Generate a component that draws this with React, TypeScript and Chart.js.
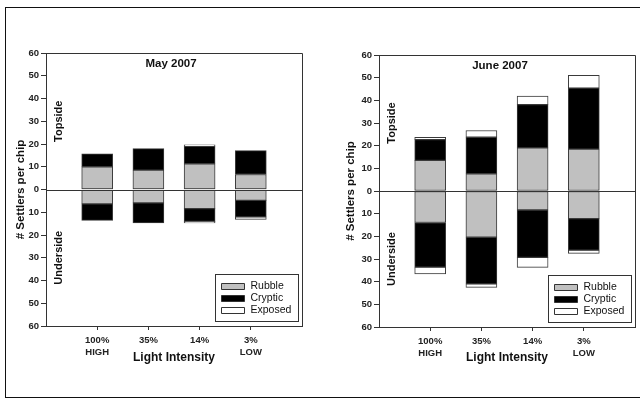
import React, { useEffect, useRef } from "react";
import { Chart, registerables } from "chart.js";

Chart.register(...registerables);

const FONT = "'Liberation Sans', Arial, Helvetica, sans-serif";

const categories: string[][] = [["100%", "HIGH"], ["35%"], ["14%"], ["3%", "LOW"]];
const yTickMin = -60;
const yTickMax = 60;

// May 2007
const mayRubbleTop = [10.0, 8.5, 11.3, 6.6];
const mayCrypticTop = [5.7, 9.5, 7.7, 10.5];
const mayExposedTop = [0, 0, 0.6, 0];
const mayRubbleUnder = [-6.3, -5.9, -8.4, -4.8];
const mayCrypticUnder = [-7.3, -8.8, -5.6, -7.2];
const mayExposedUnder = [0, 0, -0.7, -1.2];

// June 2007
const junRubbleTop = [13.5, 7.6, 19.0, 18.5];
const junCrypticTop = [9.2, 16.1, 19.1, 26.9];
const junExposedTop = [1.0, 3.0, 3.8, 5.6];
const junRubbleUnder = [-13.9, -20.4, -8.4, -12.2];
const junCrypticUnder = [-19.7, -20.6, -20.9, -13.9];
const junExposedUnder = [-3.0, -1.5, -4.4, -1.4];

const seriesNames = ["Rubble", "Cryptic", "Exposed"];
const seriesColors = ["#c0c0c0", "#000000", "#ffffff"];

type Layout = {
  padTop: number;
  padRight: number;
  yWidth: number;
  xHeight: number;
  yTitlePad: number;
  titleShift: number;
};

function makeDatasets(top: number[][], under: number[][]) {
  const ds: any[] = [];
  for (let s = 0; s < 3; s++) {
    for (const arr of [top[s], under[s]]) {
      ds.push({
        label: seriesNames[s],
        data: arr.map((v, i) => ({ x: i + 1, y: v })),
        backgroundColor: seriesColors[s],
        borderColor: "#3a3a3a",
        borderWidth: 1,
        borderSkipped: false,
        barThickness: 31,
        stack: "s",
      });
    }
  }
  return ds;
}

function decorPlugin(title: string, titleShift: number) {
  return {
    id: "decor",
    afterDatasetsDraw(chart: any) {
      const { ctx, chartArea: a, scales } = chart;
      const ys = scales.y;
      ctx.save();
      // zero line
      ctx.strokeStyle = "#333";
      ctx.lineWidth = 1;
      const zy = Math.round(ys.getPixelForValue(0)) + 0.5;
      ctx.beginPath();
      ctx.moveTo(a.left, zy);
      ctx.lineTo(a.right, zy);
      ctx.stroke();
      // top & right border
      ctx.beginPath();
      ctx.moveTo(a.left, Math.round(a.top) + 0.5);
      ctx.lineTo(Math.round(a.right) + 0.5, Math.round(a.top) + 0.5);
      ctx.lineTo(Math.round(a.right) + 0.5, a.bottom);
      ctx.stroke();
      // title
      ctx.fillStyle = "#111";
      ctx.font = `bold 11.5px ${FONT}`;
      ctx.textAlign = "center";
      ctx.textBaseline = "middle";
      ctx.fillText(title, (a.left + a.right) / 2 + titleShift, a.top + 10.5);
      // Topside / Underside
      ctx.font = `bold 11px ${FONT}`;
      for (const [txt, val] of [["Topside", 30], ["Underside", -30]] as [string, number][]) {
        ctx.save();
        ctx.translate(a.left + 12.5, ys.getPixelForValue(val));
        ctx.rotate(-Math.PI / 2);
        ctx.fillText(txt, 0, 0);
        ctx.restore();
      }
      // legend box
      const bw = 83;
      const bh = 47;
      const bx = Math.round(a.right - 4 - bw) + 0.5;
      const by = Math.round(a.bottom - 5 - bh) + 0.5;
      ctx.fillStyle = "#fff";
      ctx.fillRect(bx, by, bw, bh);
      ctx.strokeStyle = "#333";
      ctx.strokeRect(bx, by, bw, bh);
      const seen: string[] = [];
      const items: { label: string; color: string }[] = [];
      for (const d of chart.data.datasets) {
        if (!seen.includes(d.label)) {
          seen.push(d.label);
          items.push({ label: d.label, color: d.backgroundColor });
        }
      }
      ctx.font = `10.5px ${FONT}`;
      ctx.textAlign = "left";
      items.forEach((it, i) => {
        const cy = by + 11 + 12 * i;
        ctx.fillStyle = it.color;
        ctx.strokeStyle = "#333";
        ctx.beginPath();
        ctx.rect(bx + 6, Math.round(cy - 3) + 0.5, 23, 6);
        ctx.fill();
        ctx.stroke();
        ctx.fillStyle = "#111";
        ctx.fillText(it.label, bx + 35, cy + 0.5);
      });
      ctx.restore();
    },
  };
}

function BarPanel(props: {
  title: string;
  top: number[][];
  under: number[][];
  layout: Layout;
  left: number;
}) {
  const ref = useRef<HTMLCanvasElement>(null);
  useEffect(() => {
    const L = props.layout;
    const chart = new Chart(ref.current as HTMLCanvasElement, {
      type: "bar",
      data: { datasets: makeDatasets(props.top, props.under) },
      options: {
        responsive: false,
        animation: false,
        maintainAspectRatio: false,
        layout: { padding: { top: L.padTop, right: L.padRight, left: 0, bottom: 0 } },
        plugins: { legend: { display: false }, tooltip: { enabled: false }, title: { display: false } },
        scales: {
          x: {
            type: "linear",
            min: 0,
            max: 5,
            offset: false,
            stacked: true,
            afterBuildTicks: (scale: any) => {
              scale.ticks = categories.map((_, i) => ({ value: i + 1 }));
            },
            afterFit: (scale: any) => {
              scale.height = L.xHeight;
            },
            ticks: {
              stepSize: 1,
              autoSkip: false,
              maxRotation: 0,
              padding: 5,
              color: "#222",
              font: { family: FONT, size: 9.5, weight: "bold" },
              callback: (v: any) => categories[Math.round(v) - 1] ?? "",
            },
            grid: { drawOnChartArea: false, tickLength: 4, tickColor: "#333", offset: false },
            border: { display: true, color: "#333", width: 1 },
            title: {
              display: true,
              text: "Light Intensity",
              color: "#111",
              font: { family: FONT, size: 12, weight: "bold" },
              padding: { top: 0, bottom: 34 },
            },
          },
          y: {
            type: "linear",
            min: yTickMin,
            max: yTickMax,
            stacked: true,
            afterFit: (scale: any) => {
              scale.width = L.yWidth;
            },
            ticks: {
              stepSize: 10,
              padding: 2,
              color: "#222",
              font: { family: FONT, size: 9.5, weight: "bold" },
              callback: (v: any) => String(Math.abs(v)),
            },
            grid: { drawOnChartArea: false, tickLength: 5, tickColor: "#333" },
            border: { display: true, color: "#333", width: 1 },
            title: {
              display: true,
              text: "# Settlers per chip",
              color: "#111",
              font: { family: FONT, size: 11.5, weight: "bold" },
              padding: { top: L.yTitlePad, bottom: 0 },
            },
          },
        },
      } as any,
      plugins: [decorPlugin(props.title, L.titleShift)],
    });
    return () => chart.destroy();
  }, []);
  return (
    <canvas
      ref={ref}
      width={320}
      height={399}
      style={{ position: "absolute", left: props.left, top: 0, width: 320, height: 399 }}
    />
  );
}

export default function App() {
  return (
    <div
      style={{
        position: "absolute",
        left: 0,
        top: 0,
        width: 640,
        height: 399,
        overflow: "hidden",
        background: "#fff",
      }}
    >
      <div
        style={{
          position: "absolute",
          left: 5,
          top: 7,
          width: 700,
          height: 389,
          border: "1px solid #111",
        }}
      />
      <BarPanel
        title="May 2007"
        left={0}
        top={[mayRubbleTop, mayCrypticTop, mayExposedTop]}
        under={[mayRubbleUnder, mayCrypticUnder, mayExposedUnder]}
        layout={{ padTop: 53, padRight: 18, yWidth: 46, xHeight: 73, yTitlePad: 14, titleShift: -3 }}
      />
      <BarPanel
        title="June 2007"
        left={320}
        top={[junRubbleTop, junCrypticTop, junExposedTop]}
        under={[junRubbleUnder, junCrypticUnder, junExposedUnder]}
        layout={{ padTop: 55, padRight: 5, yWidth: 59, xHeight: 72, yTitlePad: 24, titleShift: -7 }}
      />
    </div>
  );
}
